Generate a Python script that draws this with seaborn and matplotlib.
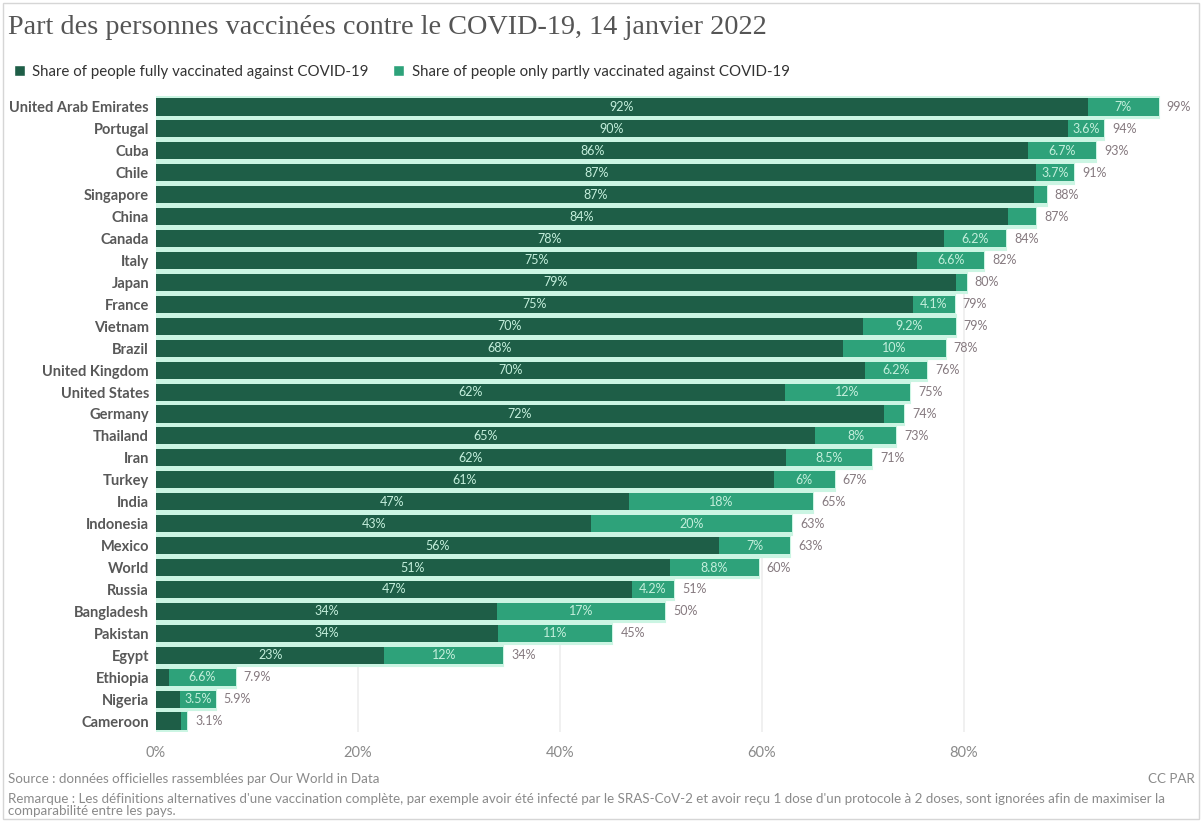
import matplotlib
matplotlib.use("Agg")
import matplotlib.pyplot as plt
import seaborn as sns
import pandas as pd
from matplotlib.patches import Patch, Rectangle

# Share of population vaccinated against COVID-19 (%), 14 January 2022
countries = [
    "United Arab Emirates", "Portugal", "Cuba", "Chile", "Singapore", "China",
    "Canada", "Italy", "Japan", "France", "Vietnam", "Brazil", "United Kingdom",
    "United States", "Germany", "Thailand", "Iran", "Turkey", "India",
    "Indonesia", "Mexico", "World", "Russia", "Bangladesh", "Pakistan", "Egypt",
    "Ethiopia", "Nigeria", "Cameroon",
]
fully = [
    92.3, 90.3, 86.4, 87.2, 87.0, 84.4,
    78.0, 75.4, 79.2, 75.0, 70.0, 68.0, 70.2,
    62.3, 72.1, 65.3, 62.4, 61.2, 46.8,
    43.1, 55.8, 50.9, 47.1, 33.8, 33.9, 22.6,
    1.3, 2.4, 2.5,
]
partly = [
    7.0, 3.6, 6.7, 3.7, 1.2, 2.8,
    6.2, 6.6, 1.1, 4.1, 9.2, 10.2, 6.2,
    12.4, 2.0, 8.0, 8.5, 6.0, 18.3,
    19.9, 7.0, 8.8, 4.2, 16.6, 11.3, 11.8,
    6.6, 3.5, 0.6,
]
tick_values = [0, 20, 40, 60, 80]

legend_full = "Share of people fully vaccinated against COVID-19"
legend_part = "Share of people only partly vaccinated against COVID-19"
title = "Part des personnes vaccinées contre le COVID-19, 14 janvier 2022"
source = "Source : données officielles rassemblées par Our World in Data"
note = ("Remarque : Les définitions alternatives d'une vaccination complète, par exemple avoir été "
        "infecté par le SRAS-CoV-2 et avoir reçu 1 dose d'un protocole à 2 doses, sont ignorées afin "
        "de maximiser la\ncomparabilité entre les pays.")

DARK = "#1e5e47"
LIGHT = "#2ea27a"
MINT = "#cbf5e3"

df = pd.DataFrame({"country": countries, "fully": fully, "partly": partly})
df["total"] = df["fully"] + df["partly"]

sns.set_theme(style="white")
plt.rcParams["font.family"] = ["Lato", "DejaVu Sans"]

W, H = 1202, 821
fig = plt.figure(figsize=(W / 100, H / 100), dpi=100)
fig.patch.set_facecolor("white")
ax = fig.add_axes([156 / W, 1 - 732 / H, 1040 / W, 636 / H])

# mint band behind each row, then the total (light) and fully vaccinated (dark) bars
sns.barplot(data=df, y="country", x="total", orient="h", color=MINT, width=1.0,
            saturation=1, linewidth=1.5, edgecolor=MINT, errorbar=None, ax=ax)
sns.barplot(data=df, y="country", x="total", orient="h", color=LIGHT, width=0.78,
            saturation=1, linewidth=0, errorbar=None, ax=ax)
sns.barplot(data=df, y="country", x="fully", orient="h", color=DARK, width=0.78,
            saturation=1, linewidth=0, errorbar=None, ax=ax)

ax.set_xlim(0, 103)
ax.set_ylim(len(df) - 0.5, -0.5)
ax.set_axisbelow(True)
ax.xaxis.grid(True, color="#eeeeee", linewidth=1.2)
ax.yaxis.grid(False)
ax.set_xticks(tick_values)
ax.set_xticklabels([f"{v}%" for v in tick_values], color="#8a8a8a", fontsize=10.5)
ax.tick_params(axis="x", length=0, pad=10)
ax.tick_params(axis="y", length=0, pad=5, labelsize=10.5, labelcolor="#585858")
for lab in ax.get_yticklabels():
    lab.set_fontweight("bold")
ax.set_xlabel("")
ax.set_ylabel("")
for s in ax.spines.values():
    s.set_visible(False)


def pct(v):
    return f"{v:.2g}%"


for i, r in df.iterrows():
    if r["fully"] >= 5:
        ax.text(r["fully"] / 2, i, pct(r["fully"]), ha="center", va="center",
                fontsize=9, color="#c4efdc")
    if r["partly"] >= 3.4:
        ax.text(r["fully"] + r["partly"] / 2, i, pct(r["partly"]), ha="center",
                va="center", fontsize=9, color="#c4efdc")
    ax.text(r["total"] + 0.8, i, pct(r["total"]), ha="left", va="center",
            fontsize=9, color="#85797f")

fig.text(8 / W, 1 - 28 / H, title, ha="left", va="center", fontsize=20.3,
         family=["Liberation Serif", "DejaVu Serif"], color="#555555")

handles = [Patch(facecolor=DARK, label=legend_full),
           Patch(facecolor=LIGHT, label=legend_part)]
fig.legend(handles=handles, loc="center left", bbox_to_anchor=(0 / W, 1 - 72 / H),
           ncol=2, frameon=False, fontsize=10.8, handlelength=0.75, handleheight=0.75,
           handletextpad=0.5, columnspacing=1.6, labelcolor="#333333")

fig.text(8 / W, 1 - 779 / H, source, ha="left", va="center", fontsize=9.6, color="#8a8a8a")
fig.text(1195 / W, 1 - 779 / H, "CC PAR", ha="right", va="center", fontsize=9.6, color="#8a8a8a")
fig.text(8 / W, 1 - 793 / H, note, ha="left", va="top", fontsize=9.6, color="#8a8a8a",
         linespacing=1.0)

fig.patches.append(Rectangle((3 / W, 2 / H), 1 - 6 / W, 1 - 5 / H, transform=fig.transFigure,
                             fill=False, edgecolor="#d6d6d6", linewidth=1))

fig.savefig("out.png", dpi=100, facecolor="white")
